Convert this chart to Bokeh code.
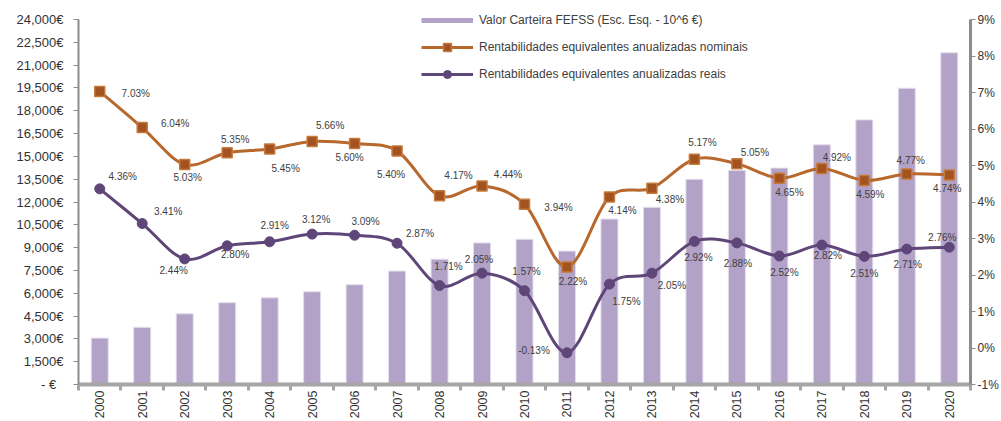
from bokeh.plotting import figure
from bokeh.models import (ColumnDataSource, Range1d, LinearAxis, FixedTicker,
                          LabelSet, Legend, LegendItem)
from bokeh.core.properties import value
from bokeh.embed import file_html
from bokeh.resources import INLINE
import math

# ---------------- data ----------------
years = ["2000", "2001", "2002", "2003", "2004", "2005", "2006", "2007", "2008", "2009",
         "2010", "2011", "2012", "2013", "2014", "2015", "2016", "2017", "2018", "2019", "2020"]
portfolio = [3050, 3760, 4650, 5380, 5700, 6100, 6560, 7460, 8240, 9310,
             9550, 8770, 10880, 11650, 13490, 14080, 14230, 15760, 17400, 19480, 21810]
nominal = [7.03, 6.04, 5.03, 5.35, 5.45, 5.66, 5.60, 5.40, 4.17, 4.44,
           3.94, 2.22, 4.14, 4.38, 5.17, 5.05, 4.65, 4.92, 4.59, 4.77, 4.74]
real = [4.36, 3.41, 2.44, 2.80, 2.91, 3.12, 3.09, 2.87, 1.71, 2.05,
        1.57, -0.13, 1.75, 2.05, 2.92, 2.88, 2.52, 2.82, 2.51, 2.71, 2.76]
left_ticks = [0, 1500, 3000, 4500, 6000, 7500, 9000, 10500, 12000, 13500,
              15000, 16500, 18000, 19500, 21000, 22500, 24000]
left_labels = ["-   €", "1,500€", "3,000€", "4,500€", "6,000€", "7,500€", "9,000€",
               "10,500€", "12,000€", "13,500€", "15,000€", "16,500€", "18,000€",
               "19,500€", "21,000€", "22,500€", "24,000€"]
pct_ticks = [-1, 0, 1, 2, 3, 4, 5, 6, 7, 8, 9]
pct_labels = ["-1%", "0%", "1%", "2%", "3%", "4%", "5%", "6%", "7%", "8%", "9%"]
series_names = ["Valor Carteira FEFSS (Esc. Esq. - 10^6 €)",
                "Rentabilidades equivalentes anualizadas nominais",
                "Rentabilidades equivalentes anualizadas reais"]

# ---------------- styles ----------------
BAR = "#B3A2C7"
ORANGE = "#B8682D"
ORANGE_FILL = "#A3531F"
ORANGE_EDGE = "#C47A3C"
PURPLE = "#5F4679"
AXIS_GRAY = "#8C8C8C"
TEXT = "#333333"
LABEL = "#404040"
FONT = "Liberation Sans"
TOP_PAD = 14 / 365.0   # headroom above the top tick (fraction of axis span), room for legend

# data-label offsets in screen px (right / down positive)
nom_dx = [36, 33, 3, 8, 16, 18, -5, -6, 19, 26, 34, 6, 13, 18, 8, 18, 10, 15, 6, 4, -2]
nom_dy = [2, -4, 13, -13, 19, -16, 14, 24, -20, -11, 3, 15, 14, 11, -17, -11, 14, -11, 14, -13, 14]
real_dx = [23, 26, -11, 8, 5, 4, 11, 23, 9, -3, 2, -33, 17, 20, 4, 1, 5, 6, 0, 1, -7]
real_dy = [-12, -12, 12, 9, -16, -15, -14, -10, -19, -14, -19, -2, 17, 12, 16, 21, 16, 10, 17, 15, -10]

idx = list(range(len(years)))
NAN = float("nan")

l0, l1 = left_ticks[0], left_ticks[-1]
r0, r1 = pct_ticks[0], pct_ticks[-1]
p = figure(width=1001, height=421, output_backend="svg", toolbar_location=None,
           x_range=Range1d(-0.5, len(years) - 0.5),
           y_range=Range1d(l0, l1 + (l1 - l0) * TOP_PAD),
           min_border_left=78, min_border_right=29, min_border_top=5, min_border_bottom=36)
p.extra_y_ranges = {"pct": Range1d(r0, r1 + (r1 - r0) * TOP_PAD)}
p.outline_line_color = None
p.xgrid.visible = False
p.ygrid.visible = False

# bottom axis: labels at category centres, tick marks at category boundaries
xa = p.xaxis[0]
xa.ticker = FixedTicker(ticks=idx, minor_ticks=[i - 0.5 for i in range(len(years) + 1)])
xa.major_label_overrides = {i: y for i, y in enumerate(years)}
xa.major_label_orientation = math.pi / 2
xa.major_label_text_font = FONT
xa.major_label_text_font_size = "12.5px"
xa.major_label_text_color = TEXT
xa.major_label_standoff = 0
xa.major_tick_line_color = None
xa.major_tick_in = 0
xa.major_tick_out = 0
xa.axis_line_color = "#A6A6A6"
xa.axis_line_width = 4
xa.minor_tick_line_color = "#A6A6A6"
xa.minor_tick_line_width = 3
xa.minor_tick_in = 0
xa.minor_tick_out = 6

# left axis
ya = p.yaxis[0]
ya.ticker = FixedTicker(ticks=left_ticks)
ya.bounds = (l0, l1)
ya.major_label_overrides = {t: l for t, l in zip(left_ticks, left_labels)}
ya.axis_line_color = AXIS_GRAY
ya.axis_line_width = 2
ya.major_tick_line_color = AXIS_GRAY
ya.major_tick_in = 0
ya.major_tick_out = 5
ya.major_label_standoff = 10
ya.minor_tick_line_color = None
ya.major_label_text_font = FONT
ya.major_label_text_font_size = "13px"
ya.major_label_text_color = TEXT

# right axis
ra = LinearAxis(y_range_name="pct", ticker=FixedTicker(ticks=pct_ticks), bounds=(r0, r1))
ra.major_label_overrides = {t: l for t, l in zip(pct_ticks, pct_labels)}
ra.major_label_text_font = FONT
ra.major_label_text_font_size = "12px"
ra.major_label_text_color = TEXT
ra.major_label_standoff = 2
ra.axis_line_color = AXIS_GRAY
ra.axis_line_width = 3
ra.major_tick_line_color = AXIS_GRAY
ra.major_tick_in = 0
ra.major_tick_out = 5
ra.minor_tick_line_color = None
p.add_layout(ra, "right")

# bars
p.vbar(x=idx, top=portfolio, width=0.4, fill_color=BAR, line_color="#E4DDED", line_width=1)


def bezier_source(vals):
    n = len(vals)
    d = dict(x0=[], y0=[], x1=[], y1=[], cx0=[], cy0=[], cx1=[], cy1=[])
    for i in range(n - 1):
        a = max(i - 1, 0)
        b = min(i + 2, n - 1)
        d["x0"].append(idx[i]); d["y0"].append(vals[i])
        d["x1"].append(idx[i + 1]); d["y1"].append(vals[i + 1])
        d["cx0"].append(idx[i] + (idx[i + 1] - idx[a]) / 6.0)
        d["cy0"].append(vals[i] + (vals[i + 1] - vals[a]) / 6.0)
        d["cx1"].append(idx[i + 1] - (idx[b] - idx[i]) / 6.0)
        d["cy1"].append(vals[i + 1] - (vals[b] - vals[i]) / 6.0)
    return ColumnDataSource(d)


p.bezier(x0="x0", y0="y0", x1="x1", y1="y1", cx0="cx0", cy0="cy0", cx1="cx1", cy1="cy1",
         source=bezier_source(nominal), line_color=ORANGE, line_width=3, line_cap="round",
         y_range_name="pct")
p.bezier(x0="x0", y0="y0", x1="x1", y1="y1", cx0="cx0", cy0="cy0", cx1="cx1", cy1="cy1",
         source=bezier_source(real), line_color=PURPLE, line_width=3, line_cap="round",
         y_range_name="pct")
nom_pts = p.scatter(x=idx, y=nominal, marker="square", size=10, fill_color=ORANGE_FILL,
                    line_color=ORANGE_EDGE, line_width=1.5, y_range_name="pct")
real_pts = p.scatter(x=idx, y=real, marker="circle", size=10, fill_color=PURPLE,
                     line_color=PURPLE, y_range_name="pct")

# data labels
nom_src = ColumnDataSource(dict(x=idx, y=nominal, t=[f"{v:.2f}%" for v in nominal],
                                dx=nom_dx, dy=[-v for v in nom_dy]))
real_src = ColumnDataSource(dict(x=idx, y=real, t=[f"{v:.2f}%" for v in real],
                                 dx=real_dx, dy=[-v for v in real_dy]))
for src in (nom_src, real_src):
    p.add_layout(LabelSet(x="x", y="y", text="t", x_offset="dx", y_offset="dy", source=src,
                          y_range_name="pct", text_align="center", text_baseline="middle",
                          text_font=value(FONT), text_font_size=value("10px"),
                          text_color=LABEL))

# legend (NaN line renderers supply the line symbols)
leg_bar = p.line(x=[NAN], y=[NAN], line_color=BAR, line_width=5)
leg_nom = p.line(x=[NAN], y=[NAN], line_color=ORANGE, line_width=3, y_range_name="pct")
leg_real = p.line(x=[NAN], y=[NAN], line_color=PURPLE, line_width=3, y_range_name="pct")
legend = Legend(items=[LegendItem(label=series_names[0], renderers=[leg_bar]),
                       LegendItem(label=series_names[1], renderers=[leg_nom, nom_pts]),
                       LegendItem(label=series_names[2], renderers=[leg_real, real_pts])],
                location=(343, 300), orientation="vertical", glyph_width=52, glyph_height=20,
                label_height=20, spacing=7, padding=0, margin=0, label_standoff=6,
                border_line_color=None, background_fill_alpha=0,
                label_text_font=FONT, label_text_font_size="12px", label_text_color=LABEL)
p.add_layout(legend, "center")

open("out.html", "w").write(file_html(p, INLINE))
